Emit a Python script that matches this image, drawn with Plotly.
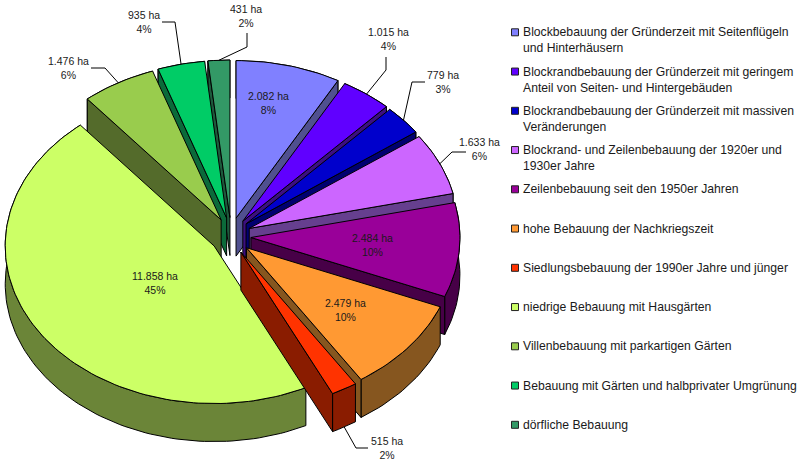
import math
import plotly.graph_objects as go

# Flächen je Bebauungstyp (ha), im Uhrzeigersinn ab 12 Uhr
categories = [
    "Blockbebauung der Gründerzeit mit Seitenflügeln<br>und Hinterhäusern",
    "Blockrandbebauung der Gründerzeit mit geringem<br>Anteil von Seiten- und Hintergebäuden",
    "Blockrandbebauung der Gründerzeit mit massiven<br>Veränderungen",
    "Blockrand- und Zeilenbebauung der 1920er und<br>1930er Jahre",
    "Zeilenbebauung seit den 1950er Jahren",
    "hohe Bebauung der Nachkriegszeit",
    "Siedlungsbebauung der 1990er Jahre und jünger",
    "niedrige Bebauung mit Hausgärten",
    "Villenbebauung mit parkartigen Gärten",
    "Bebauung mit Gärten und halbprivater Umgrünung",
    "dörfliche Bebauung",
]
hectares = [2082, 1015, 779, 1633, 2484, 2479, 515, 11858, 1476, 935, 431]
percent_labels = ["8%", "4%", "3%", "6%", "10%", "10%", "2%", "45%", "6%", "4%", "2%"]

top_colors = ["#8080ff", "#6000ff", "#0000cc", "#cc66ff", "#990099", "#ff9933",
              "#ff3300", "#ccff66", "#99cc4d", "#00cc66", "#339966"]
side_colors = ["#50508f", "#3c0f80", "#000070", "#663f8f", "#470047", "#86561f",
               "#8a1c00", "#6b8538", "#546b2b", "#0b6a3a", "#1d5a3c"]

# Ellipse, Explosion und Tiefe der Torte in Achseneinheiten
CX, CY = 231, 236
RX, RY = 209, 157.5
EX, EY = 20, 18.5
DEPTH = 38

# Beschriftungen: Mitte des Textes; Knickpunkte der Führungslinien
label_pos = [(268, 103), (388, 39), (443, 82), (479, 149), (372, 245), (345, 310),
             (387, 448), (155, 283), (68, 68), (144, 22), (246, 16)]
leader_knees = {
    1: [(386, 57), (386, 70)],
    2: [(425, 82), (412, 82)],
    3: [(466, 152), (452, 152)],
    6: [(368, 448), (356, 448)],
    8: [(91, 68), (105, 68)],
    9: [(162, 22), (175, 22)],
    10: [(247, 33), (247, 47)],
}

LEGEND_X, LEGEND_TEXT_X = 515, 521.5
LEGEND_Y0, LEGEND_STEP = 32.3, 39.25
FONT = "Liberation Sans, Arial, sans-serif"

total = sum(hectares)
fig = go.Figure()


def polygon(xs, ys, fill):
    fig.add_trace(go.Scatter(
        x=xs, y=ys, mode="lines", fill="toself", fillcolor=fill,
        line=dict(color="#000000", width=1), hoverinfo="skip", showlegend=False,
    ))


# Winkelbereiche und Scheitelpunkte aus den Werten
slices = []
running = 0
for value in hectares:
    start = running / total * 2 * math.pi
    running += value
    end = running / total * 2 * math.pi
    mid = (start + end) / 2
    apex = (CX + EX * math.sin(mid), CY - EY * math.cos(mid))
    slices.append((start, end, mid, apex))


def rim_point(apex, angle):
    return apex[0] + RX * math.sin(angle), apex[1] - RY * math.cos(angle)


# Von hinten nach vorn zeichnen, damit vordere Stücke die hinteren überdecken
order = sorted(range(len(hectares)), key=lambda i: -math.cos(slices[i][2]))
for i in order:
    start, end, mid, apex = slices[i]
    steps = max(3, int((end - start) / math.radians(1.5)))
    rim = [rim_point(apex, start + (end - start) * k / steps) for k in range(steps + 1)]
    # Außenwand
    polygon([p[0] for p in rim] + [p[0] for p in reversed(rim)] + [rim[0][0]],
            [p[1] for p in rim] + [p[1] + DEPTH for p in reversed(rim)] + [rim[0][1]],
            side_colors[i])
    # Schnittflächen: rechts ist die Endkante sichtbar, links die Anfangskante
    visible_edges = []
    if end < math.pi:
        visible_edges.append(rim[-1])
    if start > math.pi:
        visible_edges.append(rim[0])
    for edge in visible_edges:
        polygon([apex[0], edge[0], edge[0], apex[0], apex[0]],
                [apex[1], edge[1], edge[1] + DEPTH, apex[1] + DEPTH, apex[1]],
                side_colors[i])
    # Deckfläche
    polygon([apex[0]] + [p[0] for p in rim] + [apex[0]],
            [apex[1]] + [p[1] for p in rim] + [apex[1]],
            top_colors[i])

# Führungslinien vom Rand des Stücks zum Text; vorn setzen sie an der Unterkante an
for i, knees in leader_knees.items():
    start, end, mid, apex = slices[i]
    tip = rim_point(apex, mid)
    tip_y = tip[1] + DEPTH if math.cos(mid) < 0 else tip[1]
    fig.add_trace(go.Scatter(
        x=[p[0] for p in knees] + [tip[0]],
        y=[p[1] for p in knees] + [tip_y],
        mode="lines", line=dict(color="#000000", width=1),
        hoverinfo="skip", showlegend=False,
    ))

annotations = []
for i, value in enumerate(hectares):
    ha_text = f"{value:,}".replace(",", ".") + " ha"
    annotations.append(dict(
        x=label_pos[i][0], y=label_pos[i][1], xref="x", yref="y",
        text=f"{ha_text}<br>{percent_labels[i]}", showarrow=False, align="center",
        font=dict(family=FONT, size=10.5, color="#1a1a1a"),
    ))

# Legende rechts
legend_y = [LEGEND_Y0 + LEGEND_STEP * k for k in range(len(categories))]
fig.add_trace(go.Scatter(
    x=[LEGEND_X] * len(categories), y=legend_y, mode="markers",
    marker=dict(symbol="square", size=7, color=top_colors,
                line=dict(color="#222222", width=1)),
    hoverinfo="skip", showlegend=False,
))
for name, y in zip(categories, legend_y):
    annotations.append(dict(
        x=LEGEND_TEXT_X, y=y - 8, xref="x", yref="y", xanchor="left", yanchor="top",
        text=name, showarrow=False, align="left", borderpad=0,
        font=dict(family=FONT, size=12.2, color="#1a1a1a"),
    ))

fig.update_layout(
    width=800, height=465, margin=dict(l=0, r=0, t=0, b=0),
    paper_bgcolor="#ffffff", plot_bgcolor="#ffffff", showlegend=False,
    annotations=annotations,
    xaxis=dict(range=[0, 800], visible=False, fixedrange=True, domain=[0, 1]),
    yaxis=dict(range=[465, 0], visible=False, fixedrange=True, domain=[0, 1]),
)
fig.write_html("out.html", config={"displayModeBar": False})
